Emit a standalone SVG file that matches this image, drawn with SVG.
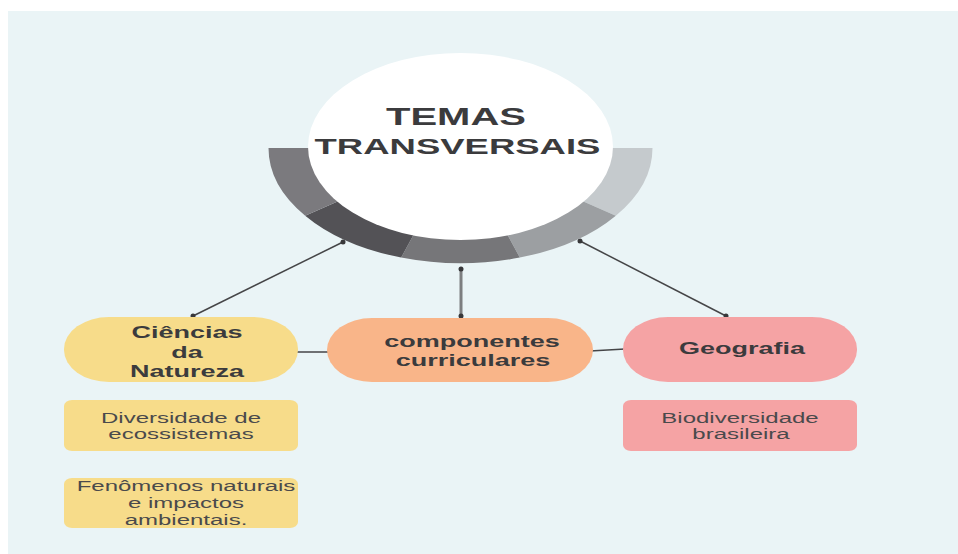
<svg xmlns="http://www.w3.org/2000/svg" width="958" height="554" viewBox="0 0 958 554">
<style>
.bold{font-family:"Liberation Sans",Arial,sans-serif;font-weight:bold;fill:#3b3b3d;text-anchor:middle}
.reg{font-family:"Liberation Sans",Arial,sans-serif;fill:#4a4a4c;text-anchor:middle;font-size:24px}
.ln{stroke:#454547;stroke-width:1.5;fill:none}
.dot{fill:#38383a}
.yel{fill:#f7dc8a}
.org{fill:#f9b589}
.pnk{fill:#f5a3a4}
</style>
<rect x="0" y="0" width="958" height="554" fill="#ffffff"/>
<rect x="8" y="11" width="950" height="543" fill="#eaf4f6"/>

<g id="connectors">
  <line class="ln" x1="343" y1="242" x2="193" y2="316"/>
  <line class="ln" x1="580" y1="241" x2="726" y2="316"/>
  <line x1="461" y1="269" x2="461" y2="316" stroke="#7d7e80" stroke-width="3"/>
  <line class="ln" x1="296" y1="352" x2="329" y2="352"/>
  <line class="ln" x1="590" y1="351" x2="625" y2="349"/>
  <circle class="dot" cx="343" cy="242" r="2.5"/>
  <circle class="dot" cx="193" cy="316" r="2.5"/>
  <circle class="dot" cx="580" cy="241" r="2.5"/>
  <circle class="dot" cx="726" cy="316" r="2.5"/>
  <circle class="dot" cx="461" cy="269" r="2.5"/>
  <circle class="dot" cx="461" cy="316" r="2.5"/>
</g>

<g id="temas">
  <g transform="translate(460.5,148) scale(1,0.6)">
    <path d="M192,0 A192,192 0 0 1 155.33,112.86 L113.26,82.29 A140,140 0 0 0 140,0 Z" fill="#c5cacd"/>
    <path d="M155.33,112.86 A192,192 0 0 1 59.33,182.61 L43.26,133.15 A140,140 0 0 0 113.26,82.29 Z" fill="#9c9fa2"/>
    <path d="M59.33,182.61 A192,192 0 0 1 -59.33,182.61 L-43.26,133.15 A140,140 0 0 0 43.26,133.15 Z" fill="#767679"/>
    <path d="M-59.33,182.61 A192,192 0 0 1 -155.33,112.86 L-113.26,82.29 A140,140 0 0 0 -43.26,133.15 Z" fill="#535256"/>
    <path d="M-155.33,112.86 A192,192 0 0 1 -192,0 L-140,0 A140,140 0 0 0 -113.26,82.29 Z" fill="#7b7a7e"/>
  </g>
  <ellipse cx="460.5" cy="146.5" rx="152.5" ry="93.5" fill="#ffffff"/>
  <text class="bold" font-size="40" transform="translate(456,125) scale(1,0.62)">TEMAS</text>
  <text class="bold" font-size="36.5" transform="translate(457.5,154) scale(1,0.62)">TRANSVERSAIS</text>
</g>

<g id="ciencias">
  <rect class="yel" x="64" y="317" width="234" height="65" rx="45" ry="32"/>
  <text class="bold" font-size="27" transform="translate(187,338) scale(1,0.62)">Ciências</text>
  <text class="bold" font-size="27" transform="translate(187,358) scale(1,0.62)">da</text>
  <text class="bold" font-size="27" transform="translate(187,377) scale(1,0.62)">Natureza</text>
</g>

<g id="componentes">
  <rect class="org" x="327" y="318" width="266" height="64" rx="45" ry="32"/>
  <text class="bold" font-size="27" transform="translate(472,347) scale(1,0.62)">componentes</text>
  <text class="bold" font-size="27" transform="translate(473,366) scale(1,0.62)">curriculares</text>
</g>

<g id="geografia">
  <rect class="pnk" x="623" y="317" width="234" height="65" rx="45" ry="32"/>
  <text class="bold" font-size="27" transform="translate(742,354) scale(1,0.62)">Geografia</text>
</g>

<g id="diversidade">
  <rect class="yel" x="64" y="400" width="234" height="51" rx="8" ry="6"/>
  <text class="reg" transform="translate(181,423) scale(1,0.62)">Diversidade de</text>
  <text class="reg" transform="translate(181,439) scale(1,0.62)">ecossistemas</text>
</g>

<g id="fenomenos">
  <rect class="yel" x="64" y="478" width="234" height="50" rx="8" ry="6"/>
  <text class="reg" transform="translate(186,491) scale(1,0.62)">Fenômenos naturais</text>
  <text class="reg" transform="translate(186,508) scale(1,0.62)">e impactos</text>
  <text class="reg" transform="translate(186,525) scale(1,0.62)">ambientais.</text>
</g>

<g id="biodiversidade">
  <rect class="pnk" x="623" y="400" width="234" height="51" rx="8" ry="6"/>
  <text class="reg" transform="translate(740,423) scale(1,0.62)">Biodiversidade</text>
  <text class="reg" transform="translate(741,439) scale(1,0.62)">brasileira</text>
</g>
</svg>
